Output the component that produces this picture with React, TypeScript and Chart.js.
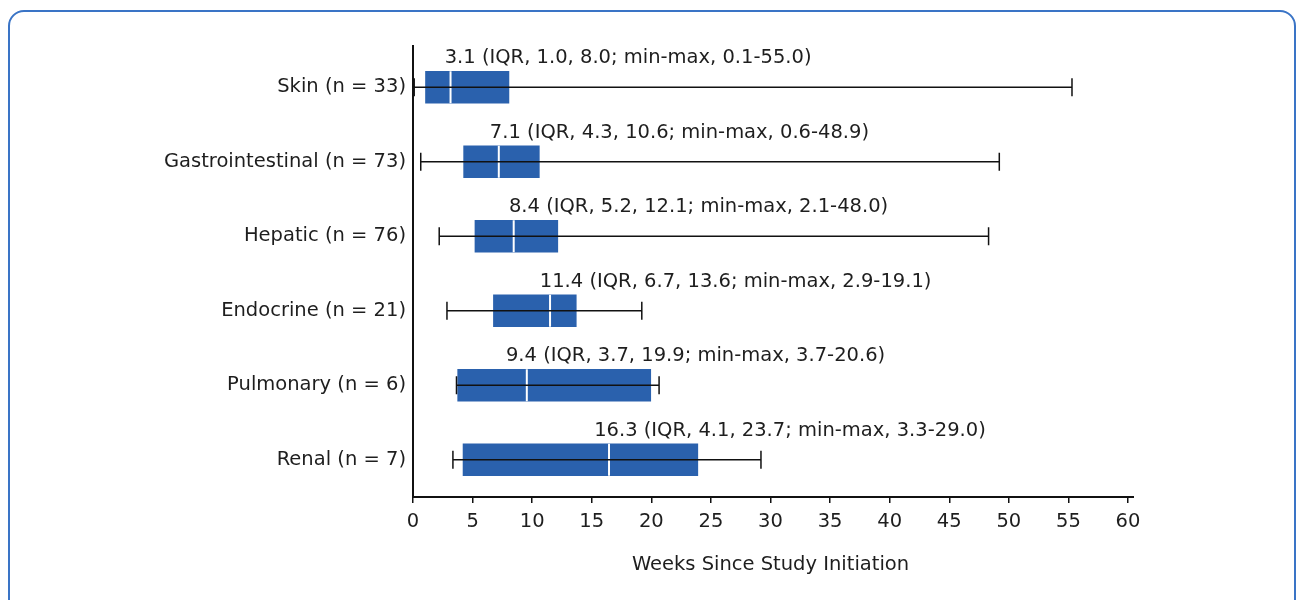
import React, { useEffect, useRef } from "react";
import { Chart, registerables } from "chart.js";

Chart.register(...registerables);

const categories = [
  "Skin (n = 33)",
  "Gastrointestinal (n = 73)",
  "Hepatic (n = 76)",
  "Endocrine (n = 21)",
  "Pulmonary (n = 6)",
  "Renal (n = 7)",
];
const minValues = [0.1, 0.65, 2.2, 2.85, 3.65, 3.35];
const q1Values = [1.05, 4.25, 5.2, 6.75, 3.75, 4.2];
const medianValues = [3.15, 7.2, 8.45, 11.5, 9.55, 16.45];
const q3Values = [8.05, 10.6, 12.15, 13.7, 19.95, 23.9];
const maxValues = [55.3, 49.2, 48.3, 19.2, 20.65, 29.2];
const summaryLabels = [
  "3.1 (IQR, 1.0, 8.0; min-max, 0.1-55.0)",
  "7.1 (IQR, 4.3, 10.6; min-max, 0.6-48.9)",
  "8.4 (IQR, 5.2, 12.1; min-max, 2.1-48.0)",
  "11.4 (IQR, 6.7, 13.6; min-max, 2.9-19.1)",
  "9.4 (IQR, 3.7, 19.9; min-max, 3.7-20.6)",
  "16.3 (IQR, 4.1, 23.7; min-max, 3.3-29.0)",
];
const labelAnchorWeeks = [2.66, 6.45, 8.05, 10.64, 7.8, 15.2];
const xTickMin = 0;
const xTickMax = 60;
const xTickStep = 5;
const xAxisTitle = "Weeks Since Study Initiation";

const FONT = "'DejaVu Sans', sans-serif";
const FONT_SIZE = 19.5;
const BOX_COLOR = "#2a61ad";
const TEXT_COLOR = "#1e1e1e";

const boxPlugin = {
  id: "boxWhiskers",
  afterDatasetsDraw(chart: any) {
    const { ctx, scales } = chart;
    const xs = scales.x;
    const ys = scales.y;
    ctx.save();
    categories.forEach((_, i) => {
      const yc = ys.getPixelForValue(i);
      const half = 16;
      const xm = xs.getPixelForValue(medianValues[i]);
      ctx.strokeStyle = "#ffffff";
      ctx.lineWidth = 2;
      ctx.beginPath();
      ctx.moveTo(xm, yc - half);
      ctx.lineTo(xm, yc + half);
      ctx.stroke();
      const xmin = xs.getPixelForValue(minValues[i]);
      const xmax = xs.getPixelForValue(maxValues[i]);
      ctx.strokeStyle = "#111111";
      ctx.lineWidth = 1.5;
      ctx.beginPath();
      ctx.moveTo(xmin, yc);
      ctx.lineTo(xmax, yc);
      ctx.moveTo(xmin, yc - 9);
      ctx.lineTo(xmin, yc + 9);
      ctx.moveTo(xmax, yc - 9);
      ctx.lineTo(xmax, yc + 9);
      ctx.stroke();
      ctx.fillStyle = TEXT_COLOR;
      ctx.font = `${FONT_SIZE}px ${FONT}`;
      ctx.textAlign = "left";
      ctx.textBaseline = "middle";
      ctx.fillText(summaryLabels[i], xs.getPixelForValue(labelAnchorWeeks[i]), yc - 29);
    });
    const area = chart.chartArea;
    ctx.strokeStyle = "#111111";
    ctx.lineWidth = 2;
    ctx.beginPath();
    ctx.moveTo(area.left, area.top - 5);
    ctx.lineTo(area.left, area.bottom);
    ctx.moveTo(area.left - 1, area.bottom);
    ctx.lineTo(area.right + 6, area.bottom);
    ctx.stroke();
    ctx.restore();
  },
};

export default function App() {
  const canvasRef = useRef<HTMLCanvasElement | null>(null);

  useEffect(() => {
    if (!canvasRef.current) return;
    const chart = new Chart(canvasRef.current, {
      type: "bar",
      data: {
        labels: categories,
        datasets: [
          {
            data: categories.map((_, i) => [q1Values[i], q3Values[i]]) as any,
            backgroundColor: BOX_COLOR,
            borderWidth: 0,
            barThickness: 32,
          },
        ],
      },
      options: {
        indexAxis: "y",
        responsive: false,
        animation: false,
        layout: { padding: { top: 50, right: 168, left: 0, bottom: 0 } },
        plugins: { legend: { display: false }, tooltip: { enabled: false } },
        scales: {
          x: {
            type: "linear",
            min: xTickMin,
            max: xTickMax,
            ticks: {
              stepSize: xTickStep,
              color: TEXT_COLOR,
              font: { family: FONT, size: FONT_SIZE },
              padding: 7,
              maxRotation: 0,
            },
            grid: {
              display: true,
              drawOnChartArea: false,
              drawTicks: true,
              tickLength: 6,
              tickColor: "#111111",
              lineWidth: 1.5,
            },
            border: { display: false },
            title: {
              display: true,
              text: xAxisTitle,
              color: TEXT_COLOR,
              font: { family: FONT, size: FONT_SIZE },
              padding: { top: 0, bottom: 23 },
            },
            afterFit: (scale: any) => {
              scale.height = 103;
            },
          },
          y: {
            type: "category",
            ticks: {
              color: TEXT_COLOR,
              font: { family: FONT, size: FONT_SIZE },
              padding: 7,
            },
            grid: { display: false, drawTicks: false },
            border: { display: false },
            afterFit: (scale: any) => {
              scale.width = 413;
            },
          },
        },
      },
      plugins: [boxPlugin],
    });
    return () => chart.destroy();
  }, []);

  return (
    <div
      style={{
        position: "fixed",
        left: 0,
        top: 0,
        width: 1296,
        height: 600,
        overflow: "hidden",
        background: "#ffffff",
      }}
    >
      <div
        style={{
          position: "absolute",
          left: 8,
          top: 10,
          width: 1288,
          height: 660,
          boxSizing: "border-box",
          border: "2px solid #3a74c6",
          borderRadius: 16,
        }}
      />
      <canvas
        ref={canvasRef}
        width={1296}
        height={600}
        style={{ position: "absolute", left: 0, top: 0, width: 1296, height: 600 }}
      />
    </div>
  );
}
